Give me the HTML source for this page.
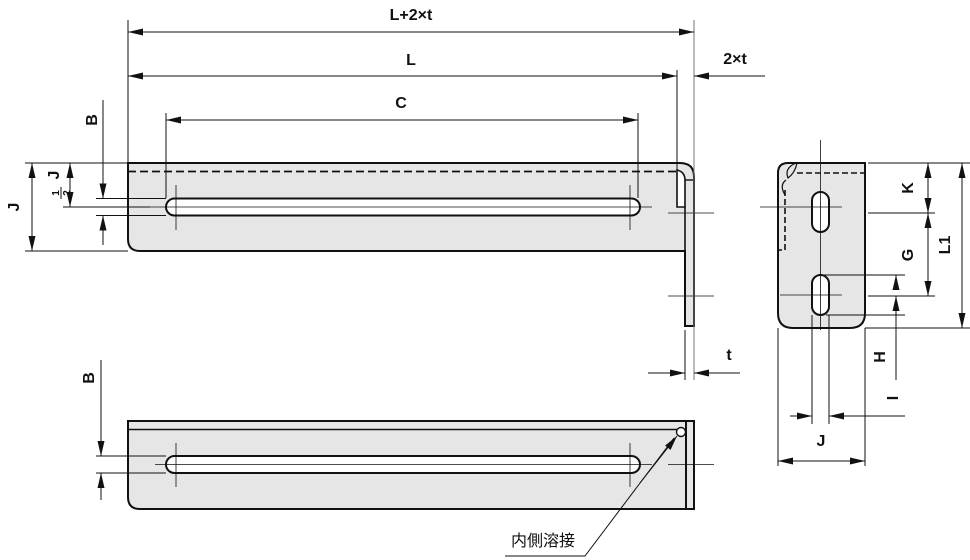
<!DOCTYPE html>
<html><head><meta charset="utf-8"><style>
html,body{margin:0;padding:0;background:#fff;width:970px;height:560px;overflow:hidden}
svg{display:block}
text{font-family:"Liberation Sans",Arial,sans-serif;font-weight:bold;font-size:16px;fill:#111}
</style></head><body>
<svg width="970" height="560" viewBox="0 0 970 560" xmlns="http://www.w3.org/2000/svg">
<defs>
<marker id="a" viewBox="0 0 15 7" refX="15" refY="3.5" markerWidth="15" markerHeight="7" orient="auto" markerUnits="userSpaceOnUse"><path d="M0,0L15,3.5L0,7z" fill="#111"/></marker>
</defs>
<g stroke="#111" stroke-width="1" fill="none">
<!-- TOP VIEW -->
<path d="M128,163 H680 Q694,163 694,177 V326 H685 V251 H140 Q128,251 128,239 Z" fill="#e6e6e6" stroke-width="2"/>
<path d="M677,170 Q685,172 685,180 V207 H677 Z" fill="#fff" stroke-width="1.6"/>
<line x1="685" y1="180" x2="694" y2="180" stroke-width="1.4"/>
<line x1="685" y1="207" x2="685" y2="326" stroke-width="1.6"/>
<line x1="128" y1="171.5" x2="677" y2="171.5" stroke-width="1.8" stroke-dasharray="8,4"/>
<rect x="166" y="198.5" width="474" height="17" rx="8.5" fill="#fff" stroke-width="2"/>
<line x1="150" y1="207" x2="652" y2="207" stroke-width="0.8"/>
<line x1="176" y1="185" x2="176" y2="230" stroke-width="0.8"/>
<line x1="630" y1="185" x2="630" y2="230" stroke-width="0.8"/>
<line x1="668" y1="213" x2="714" y2="213" stroke-width="0.8"/>
<line x1="668" y1="296" x2="714" y2="296" stroke-width="0.8"/>
<line x1="694" y1="20" x2="694" y2="380" stroke="#777"/>
<line x1="128" y1="20" x2="128" y2="163"/>
<line x1="677" y1="70" x2="677" y2="170"/>
<line x1="166" y1="113" x2="166" y2="198"/>
<line x1="638" y1="113" x2="638" y2="198"/>
<line x1="411" y1="32" x2="128" y2="32" marker-end="url(#a)"/>
<line x1="411" y1="32" x2="694" y2="32" marker-end="url(#a)"/>
<line x1="400" y1="76" x2="128" y2="76" marker-end="url(#a)"/>
<line x1="400" y1="76" x2="677" y2="76" marker-end="url(#a)"/>
<line x1="765" y1="76" x2="694" y2="76" marker-end="url(#a)"/>
<line x1="400" y1="120" x2="166" y2="120" marker-end="url(#a)"/>
<line x1="400" y1="120" x2="638" y2="120" marker-end="url(#a)"/>
<line x1="685" y1="330" x2="685" y2="380"/>
<line x1="648" y1="373" x2="685" y2="373" marker-end="url(#a)"/>
<line x1="740" y1="373" x2="694" y2="373" marker-end="url(#a)"/>
<line x1="25" y1="163" x2="128" y2="163"/>
<line x1="25" y1="251" x2="128" y2="251"/>
<line x1="96" y1="198.5" x2="166" y2="198.5"/>
<line x1="96" y1="215.5" x2="166" y2="215.5"/>
<line x1="63" y1="207" x2="150" y2="207"/>
<line x1="103" y1="100" x2="103" y2="198.5" marker-end="url(#a)"/>
<line x1="103" y1="245" x2="103" y2="215.5" marker-end="url(#a)"/>
<line x1="70" y1="185" x2="70" y2="163" marker-end="url(#a)"/>
<line x1="70" y1="185" x2="70" y2="207" marker-end="url(#a)"/>
<line x1="32" y1="207" x2="32" y2="163" marker-end="url(#a)"/>
<line x1="32" y1="207" x2="32" y2="251" marker-end="url(#a)"/>

<!-- BOTTOM VIEW -->
<path d="M128,421 H686 V509 H140 Q128,509 128,497 Z" fill="#e6e6e6" stroke-width="2"/>
<rect x="686" y="421" width="8" height="88" fill="#e6e6e6" stroke-width="2"/>
<line x1="128" y1="429.5" x2="686" y2="429.5" stroke-width="1.4"/>
<rect x="166" y="456" width="474" height="17" rx="8.5" fill="#fff" stroke-width="2"/>
<line x1="155" y1="464.5" x2="652" y2="464.5" stroke-width="0.8"/>
<line x1="176" y1="443" x2="176" y2="487" stroke-width="0.8"/>
<line x1="630" y1="443" x2="630" y2="487" stroke-width="0.8"/>
<line x1="668" y1="464.5" x2="714" y2="464.5" stroke-width="0.8"/>
<circle cx="681" cy="432" r="4.5" fill="#fff" stroke-width="1.4"/>
<line x1="96" y1="456" x2="166" y2="456"/>
<line x1="96" y1="473" x2="166" y2="473"/>
<line x1="101" y1="360" x2="101" y2="456" marker-end="url(#a)"/>
<line x1="101" y1="500" x2="101" y2="473" marker-end="url(#a)"/>
<polyline points="505,556 585,556 674,438"/>
<line x1="640" y1="483" x2="677" y2="436" marker-end="url(#a)"/>

<!-- SIDE VIEW -->
<path d="M788,163 H865 V313 Q865,328 850,328 H793 Q778,328 778,313 V173 Q778,163 788,163 Z" fill="#e6e6e6" stroke-width="2"/>
<path d="M796,163 Q784,168 788,178 Q795,173 797,163" stroke-width="1.2"/>
<path d="M797,173 H865" stroke-width="1.6" stroke-dasharray="6,3"/>
<path d="M786,180 Q779,185 785,195" stroke-width="1.2"/>
<path d="M785,190 V250 H778" stroke-width="1.6" stroke-dasharray="6,3"/>
<rect x="812" y="192" width="17" height="40" rx="8.5" fill="#fff" stroke-width="2"/>
<rect x="812" y="275" width="17" height="40" rx="8.5" fill="#fff" stroke-width="2"/>
<line x1="820.5" y1="140" x2="820.5" y2="330" stroke-width="0.8"/>
<line x1="760" y1="207" x2="842" y2="207" stroke-width="0.8"/>
<line x1="780" y1="295" x2="842" y2="295" stroke-width="0.8"/>
<line x1="868" y1="163" x2="970" y2="163"/>
<line x1="865" y1="328" x2="970" y2="328"/>
<line x1="868" y1="213" x2="935" y2="213"/>
<line x1="868" y1="296" x2="935" y2="296"/>
<line x1="822" y1="275" x2="905" y2="275"/>
<line x1="826" y1="315" x2="905" y2="315"/>
<line x1="962" y1="245" x2="962" y2="163" marker-end="url(#a)"/>
<line x1="962" y1="245" x2="962" y2="328" marker-end="url(#a)"/>
<line x1="928" y1="188" x2="928" y2="163" marker-end="url(#a)"/>
<line x1="928" y1="188" x2="928" y2="213" marker-end="url(#a)"/>
<line x1="928" y1="255" x2="928" y2="213" marker-end="url(#a)"/>
<line x1="928" y1="255" x2="928" y2="296" marker-end="url(#a)"/>
<line x1="896" y1="285" x2="896" y2="275" marker-end="url(#a)"/>
<line x1="896" y1="380" x2="896" y2="296" marker-end="url(#a)"/>
<line x1="778" y1="328" x2="778" y2="466"/>
<line x1="865" y1="328" x2="865" y2="466"/>
<line x1="812" y1="315" x2="812" y2="424"/>
<line x1="829" y1="315" x2="829" y2="424"/>
<line x1="790" y1="416" x2="812" y2="416" marker-end="url(#a)"/>
<line x1="905" y1="416" x2="829" y2="416" marker-end="url(#a)"/>
<line x1="821" y1="461" x2="778" y2="461" marker-end="url(#a)"/>
<line x1="821" y1="461" x2="865" y2="461" marker-end="url(#a)"/>
</g>
<text x="411" y="20" text-anchor="middle">L+2×t</text>
<text x="411" y="65" text-anchor="middle">L</text>
<text x="401" y="108" text-anchor="middle">C</text>
<text x="735" y="64" text-anchor="middle">2×t</text>
<text x="729" y="360" text-anchor="middle">t</text>
<text transform="translate(97,120) rotate(-90)" text-anchor="middle">B</text>
<text transform="translate(94,378) rotate(-90)" text-anchor="middle">B</text>
<text transform="translate(19,207) rotate(-90)" text-anchor="middle">J</text>
<text transform="translate(59,175) rotate(-90)" text-anchor="middle">J</text>
<line x1="61" y1="187" x2="61" y2="199" stroke="#111" stroke-width="1"/>
<text transform="translate(59,193) rotate(-90)" text-anchor="middle" style="font-size:10px">1</text>
<text transform="translate(70,193) rotate(-90)" text-anchor="middle" style="font-size:10px">2</text>
<text transform="translate(913,188) rotate(-90)" text-anchor="middle">K</text>
<text transform="translate(913,255) rotate(-90)" text-anchor="middle">G</text>
<text transform="translate(950,245) rotate(-90)" text-anchor="middle">L1</text>
<text transform="translate(885,357) rotate(-90)" text-anchor="middle">H</text>
<text transform="translate(898,398) rotate(-90)" text-anchor="middle">I</text>
<text x="821" y="446" text-anchor="middle">J</text>
<text x="543" y="546" text-anchor="middle" style="font-family:'Liberation Sans','Noto Sans CJK JP',sans-serif;font-weight:normal;font-size:16px">内側溶接</text>
</svg>
</body></html>
